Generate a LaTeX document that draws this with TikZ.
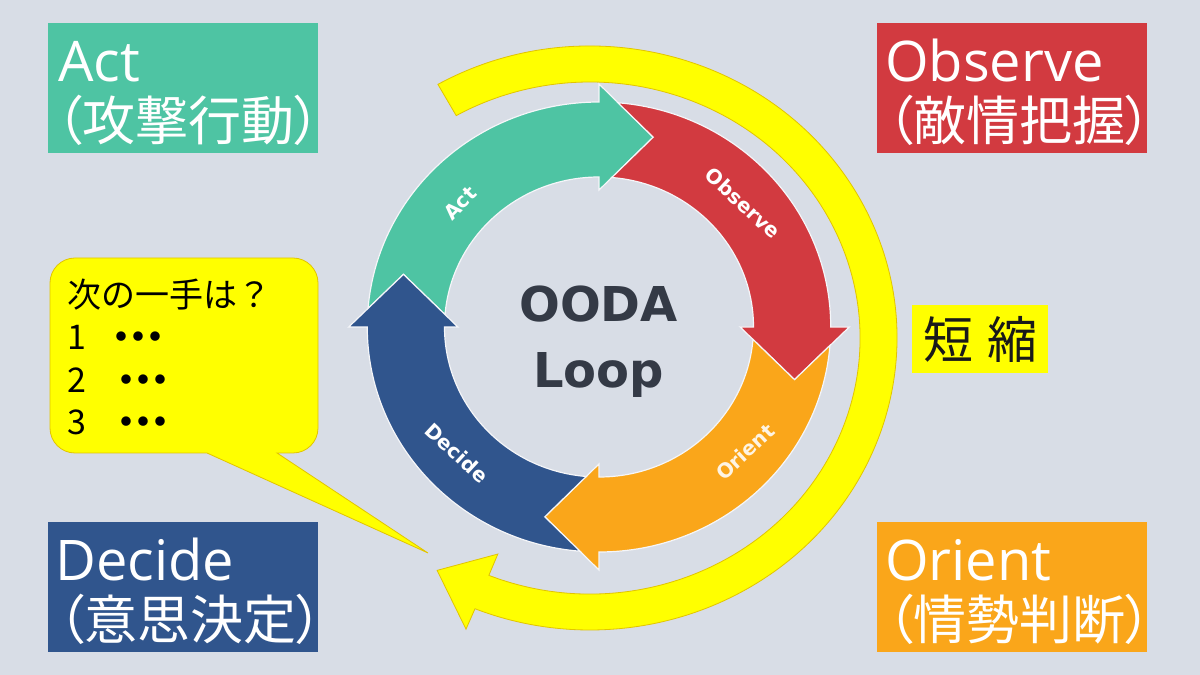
\documentclass[tikz,border=0pt]{standalone}
\usepackage{fontspec}
\newfontfamily\latbox{Open Sans}
\newfontfamily\jpbox[RawFeature=+palt]{Noto Sans CJK JP}
\newfontfamily\jpn{Noto Sans CJK JP}
\newfontfamily\jppal[RawFeature=+palt]{Noto Sans CJK JP}
\newfontfamily\dvs{DejaVu Sans}
\definecolor{bg}{HTML}{D8DDE6}
\definecolor{cact}{HTML}{4EC4A3}
\definecolor{cobs}{HTML}{D23A40}
\definecolor{cori}{HTML}{FAA61A}
\definecolor{cdec}{HTML}{30558D}
\definecolor{cyel}{HTML}{FFFF00}
\definecolor{cyedge}{HTML}{E2C400}
\definecolor{ctext}{HTML}{343A46}
\newcommand\ringarrow[2]{%
  \filldraw[fill=#2, draw=white!75!bg, line width=1.2pt, line join=miter]
    (#1-4.7:225) -- (#1-15.5:197) -- (#1-4.75:150)
    arc[start angle=#1-4.75, end angle=#1-90, radius=150]
    -- (#1-90:137) -- (#1-105.5:197) -- (#1-90:243) -- (#1-90:225)
    arc[start angle=#1-90, end angle=#1-4.7, radius=225] -- cycle;}
\begin{document}
\begin{tikzpicture}[x=1pt,y=1pt,
  box/.style={minimum width=270pt, minimum height=130pt, inner sep=0pt, anchor=south west},
  boxtxt/.style={anchor=base west, inner sep=0pt, text=white},
  big/.style={boxtxt, font=\latbox\fontsize{56}{60}\selectfont},
  bigjp/.style={boxtxt, font=\jpbox\fontsize{53}{60}\selectfont},
  ringlbl/.style={font=\dvs\bfseries\fontsize{20}{22}\selectfont, text=white, inner sep=0pt},
  center/.style={font=\dvs\bfseries\fontsize{48}{50}\selectfont, text=ctext, anchor=base, inner sep=0pt},
  bubtxt/.style={font=\jpn\fontsize{34}{40}\selectfont, anchor=base west, inner sep=0pt, text=black}]
\useasboundingbox (0,0) rectangle (1200,675);
\fill[bg] (0,0) rectangle (1200,675);

% yellow shortening arrow
\begin{scope}[shift={(590,337)}]
\filldraw[fill=cyel, draw=cyedge, line width=0.8pt, line join=miter]
  (119.7:307 and 292) arc[start angle=119.7, end angle=-112, x radius=307, y radius=292]
  -- (-112:331 and 314) -- (-122:288.5 and 274) -- (-112:246 and 233) -- (-112:270 and 256)
  arc[start angle=-112, end angle=119.7, x radius=270, y radius=256] -- cycle;
\end{scope}

% OODA ring
\begin{scope}[shift={(599,348)}, xscale=1.03]
\ringarrow{180}{cact}
\ringarrow{90}{cobs}
\ringarrow{0}{cori}
\ringarrow{-90}{cdec}
\end{scope}

\node[ringlbl, rotate=45] (lact) at (460,472) {Act};
\node[ringlbl, rotate=-43] (lobs) at (743,472) {Observe};
\node[ringlbl, rotate=43, text=white!88!cori] (lori) at (745,223) {Orient};
\node[ringlbl, rotate=-43] (ldec) at (457,222) {Decide};

\node[center] (ooda) at (598.5,353) {OODA};
\node[center] (loop) at (598.5,287) {Loop};

% corner boxes
\node[box, fill=cact] (actbox) at (48,522) {};
\node[big] (act1) at (58,593) {Act};
\node[bigjp] (act2) at (56,534) {（攻撃行動）};

\node[box, fill=cobs] (obsbox) at (877,522) {};
\node[big] (obs1) at (885,593) {Observe};
\node[bigjp] (obs2) at (887,534) {（敵情把握）};

\node[box, fill=cdec] (decbox) at (48,23) {};
\node[big] (dec1) at (55,94) {Decide};
\node[bigjp] (dec2) at (58,35) {（意思決定）};

\node[box, fill=cori] (oribox) at (877,23) {};
\node[big] (ori1) at (885,94) {Orient};
\node[bigjp] (ori2) at (887,35) {（情勢判断）};

% shortening label
\node[fill=cyel, minimum width=136pt, minimum height=68pt, inner sep=0pt,
      font=\jpn\fontsize{50}{50}\selectfont, text=black!90] (short) at (980,336) {短\hspace{14pt}縮};

% speech bubble
\filldraw[fill=cyel, draw=cyedge, line width=0.8pt, line join=miter]
  (207,222) -- (428,122) -- (277,222) -- (293,222)
  arc[start angle=-90, end angle=0, radius=25] -- (318,392)
  arc[start angle=0, end angle=90, radius=25] -- (75,417)
  arc[start angle=90, end angle=180, radius=25] -- (50,247)
  arc[start angle=180, end angle=270, radius=25] -- cycle;
\node[bubtxt] (q) at (67,367) {次の一手は？};
\node[bubtxt] (o1) at (67,325) {1\hspace{27pt}{\jppal\bfseries ・・・}};
\node[bubtxt] (o2) at (67,282) {2\hspace{32pt}{\jppal\bfseries ・・・}};
\node[bubtxt] (o3) at (67,240) {3\hspace{32pt}{\jppal\bfseries ・・・}};
\end{tikzpicture}
\end{document}
